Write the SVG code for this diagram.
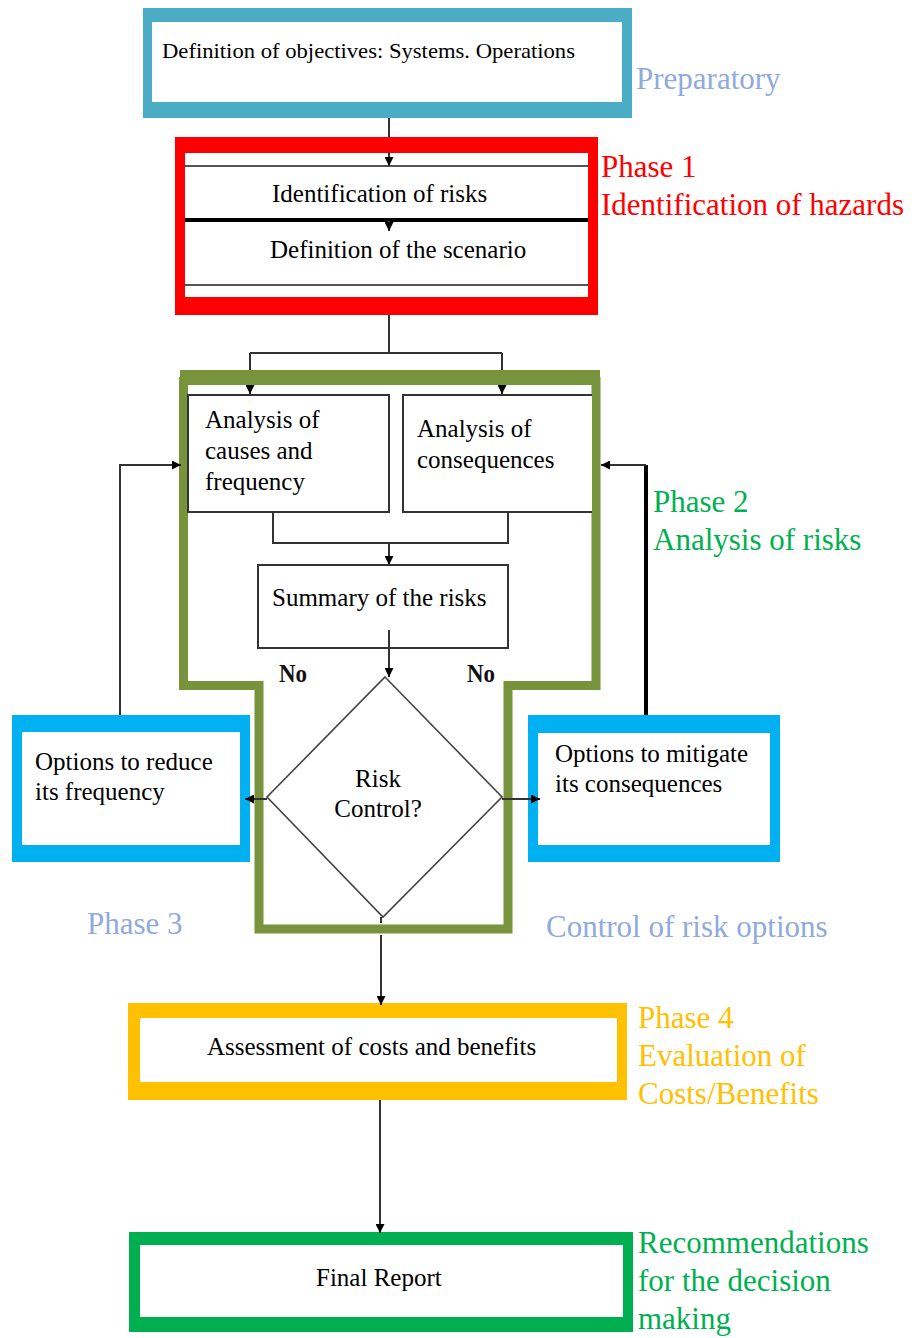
<svg xmlns="http://www.w3.org/2000/svg" width="914" height="1338" viewBox="0 0 914 1338">
<style>
.tx{font-family:"Liberation Serif","Times New Roman",serif;font-size:25px;fill:#000}
.lb{font-family:"Liberation Serif","Times New Roman",serif;font-size:31px}
.no{font-family:"Liberation Serif","Times New Roman",serif;font-size:26px;font-weight:bold;fill:#111}
.c{fill:none;stroke:#333;stroke-width:2}
.frame{fill-rule:evenodd}
</style>
<defs>
<marker id="ah" viewBox="0 0 10 10" refX="10" refY="5" markerWidth="9" markerHeight="9" markerUnits="userSpaceOnUse" orient="auto">
<path d="M0,0 L10,5 L0,10 z" fill="#000"/>
</marker>
</defs>
<rect width="914" height="1338" fill="#fff"/>

<g id="n-objectives">
<path class="frame" fill="#4bacc6" d="M143 8H632V118H143Z M152 22V102H622V22Z"/>
<text class="tx" x="162" y="58" textLength="413" lengthAdjust="spacingAndGlyphs" style="font-size:22px">Definition of objectives: Systems. Operations</text>
</g>
<text class="lb" x="636" y="89" fill="#8faadc">Preparatory</text>

<g id="n-phase1">
<path class="frame" fill="#ff0000" d="M175 137H598V315H175Z M185 153V297H588V153Z"/>
<line x1="185" y1="166" x2="588" y2="166" stroke="#555" stroke-width="2"/>
<line x1="185" y1="220" x2="588" y2="220" stroke="#000" stroke-width="4"/>
<line x1="185" y1="285" x2="588" y2="285" stroke="#555" stroke-width="2"/>
<text class="tx" x="272" y="202">Identification of risks</text>
<text class="tx" x="270" y="258">Definition of the scenario</text>
</g>
<text class="lb" x="601" y="177" fill="#ff0000">Phase 1</text>
<text class="lb" x="601" y="215" fill="#ff0000">Identification of hazards</text>

<g id="n-phase2-frame">
<path d="M183.5 377 V685.5 H259 V929 H508 V685.5 H596 V377" fill="none" stroke="#77933c" stroke-width="9" stroke-linejoin="miter"/>
<rect x="180" y="370" width="420" height="15" fill="#77933c"/>
</g>

<g id="n-causes">
<rect x="188" y="395" width="201" height="117" fill="#fff" stroke="#333" stroke-width="2"/>
<text class="tx" x="205" y="428">Analysis of</text>
<text class="tx" x="205" y="459">causes and</text>
<text class="tx" x="205" y="490">frequency</text>
</g>
<g id="n-consequences">
<path d="M592 395 H403 V512 H592" fill="#fff" stroke="#333" stroke-width="2"/>
<text class="tx" x="417" y="437">Analysis of</text>
<text class="tx" x="417" y="468">consequences</text>
</g>
<g id="n-summary">
<rect x="258" y="565" width="250" height="83" fill="#fff" stroke="#333" stroke-width="2"/>
<text class="tx" x="272" y="606">Summary of the risks</text>
</g>
<text class="lb" x="653" y="512" fill="#00b050">Phase 2</text>
<text class="lb" x="653" y="550" fill="#00b050">Analysis of risks</text>

<text class="no" x="279" y="682" textLength="28" lengthAdjust="spacingAndGlyphs">No</text>
<text class="no" x="467" y="682" textLength="28" lengthAdjust="spacingAndGlyphs">No</text>

<g id="n-decision">
<polygon points="385,677 502,797 383,917 267,797" fill="#fff" stroke="#444" stroke-width="1.6"/>
<text class="tx" x="378" y="787" text-anchor="middle">Risk</text>
<text class="tx" x="378" y="817" text-anchor="middle">Control?</text>
</g>

<g id="n-reduce">
<path class="frame" fill="#00b0f0" d="M12 715H250V862H12Z M22 732V845H240V732Z"/>
<text class="tx" x="35" y="770">Options to reduce</text>
<text class="tx" x="35" y="800">its frequency</text>
</g>
<g id="n-mitigate">
<path class="frame" fill="#00b0f0" d="M528 715H780V862H528Z M538 733V845H770V733Z"/>
<text class="tx" x="555" y="762">Options to mitigate</text>
<text class="tx" x="555" y="792">its consequences</text>
</g>
<text class="lb" x="87" y="934" fill="#8faadc">Phase 3</text>
<text class="lb" x="546" y="937" fill="#8faadc">Control of risk options</text>

<g id="n-assessment">
<path class="frame" fill="#ffc000" d="M128 1003H627V1100H128Z M140 1018V1082H617V1018Z"/>
<text class="tx" x="207" y="1055">Assessment of costs and benefits</text>
</g>
<text class="lb" x="638" y="1028" fill="#ffc000">Phase 4</text>
<text class="lb" x="638" y="1066" fill="#ffc000">Evaluation of</text>
<text class="lb" x="638" y="1104" fill="#ffc000">Costs/Benefits</text>

<g id="n-final">
<path class="frame" fill="#00b050" d="M129 1232H633V1332H129Z M140 1245V1317H623V1245Z"/>
<text class="tx" x="316" y="1286">Final Report</text>
</g>
<text class="lb" x="638" y="1253" fill="#00b050">Recommendations</text>
<text class="lb" x="638" y="1291" fill="#00b050">for the decision</text>
<text class="lb" x="638" y="1329" fill="#00b050">making</text>

<g id="connectors">
<path class="c" d="M389 118 V137"/>
<path class="c" d="M389 153 V166" marker-end="url(#ah)"/>
<path class="c" d="M389 221 V231" marker-end="url(#ah)"/>
<path class="c" d="M389 315 V353 M250 353 H502 M250 353 V370 M502 353 V370"/>
<path class="c" d="M250 385 V394" marker-end="url(#ah)"/>
<path class="c" d="M502 385 V394" marker-end="url(#ah)"/>
<path class="c" d="M273 512 V543 H508 V512"/>
<path class="c" d="M389 543 V565" marker-end="url(#ah)"/>
<path class="c" d="M389 630 V677" marker-end="url(#ah)"/>
<path class="c" d="M267 799 H245" marker-end="url(#ah)"/>
<path class="c" d="M502 799 H540" marker-end="url(#ah)"/>
<path class="c" d="M120 715 V465 H181" stroke="#444" stroke-width="1.5" marker-end="url(#ah)"/>
<path d="M646 715 V465" fill="none" stroke="#000" stroke-width="4"/>
<path class="c" d="M646 465 H601" marker-end="url(#ah)"/>
<path class="c" d="M381 917 V923" stroke="#555"/>
<path class="c" d="M381 935 V1005" stroke="#555" marker-end="url(#ah)"/>
<path class="c" d="M380 1100 V1233" stroke="#555" marker-end="url(#ah)"/>
</g>
</svg>
